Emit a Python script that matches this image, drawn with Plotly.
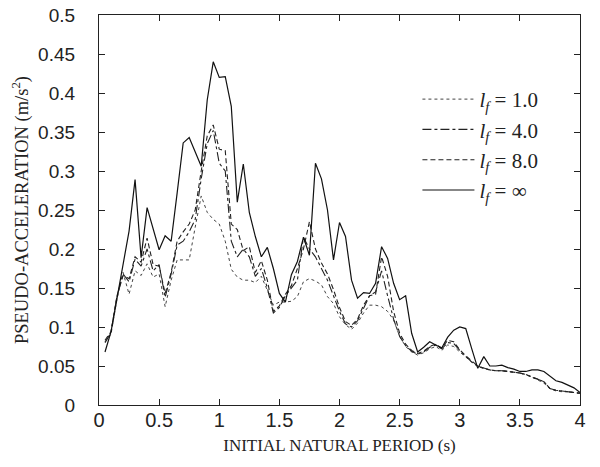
import plotly.graph_objects as go

period = [0.05, 0.10, 0.15, 0.20, 0.25, 0.30, 0.35, 0.40, 0.45, 0.50,
          0.55, 0.60, 0.65, 0.70, 0.75, 0.80, 0.85, 0.90, 0.95, 1.00,
          1.05, 1.10, 1.15, 1.20, 1.25, 1.30, 1.35, 1.40, 1.45, 1.50,
          1.55, 1.60, 1.65, 1.70, 1.75, 1.80, 1.85, 1.90, 1.95, 2.00,
          2.05, 2.10, 2.15, 2.20, 2.25, 2.30, 2.35, 2.40, 2.45, 2.50,
          2.55, 2.60, 2.65, 2.70, 2.75, 2.80, 2.85, 2.90, 2.95, 3.00,
          3.05, 3.10, 3.15, 3.20, 3.25, 3.30, 3.35, 3.40, 3.45, 3.50,
          3.55, 3.60, 3.65, 3.70, 3.75, 3.80, 3.85, 3.90, 3.95, 4.00]

acc_lf1 = [0.081, 0.091, 0.136, 0.170, 0.142, 0.172, 0.166, 0.181, 0.164, 0.168,
           0.126, 0.160, 0.186, 0.186, 0.186, 0.228, 0.268, 0.247, 0.238, 0.232,
           0.210, 0.174, 0.164, 0.160, 0.160, 0.157, 0.165, 0.147, 0.128, 0.132,
           0.132, 0.133, 0.139, 0.158, 0.162, 0.159, 0.154, 0.139, 0.130, 0.113,
           0.103, 0.097, 0.105, 0.118, 0.128, 0.128, 0.126, 0.120, 0.109, 0.088,
           0.075, 0.068, 0.064, 0.067, 0.072, 0.075, 0.070, 0.077, 0.075, 0.068,
           0.061, 0.055, 0.049, 0.047, 0.045, 0.044, 0.044, 0.043, 0.042, 0.041,
           0.039, 0.036, 0.032, 0.028, 0.021, 0.018, 0.017, 0.017, 0.016, 0.015]

acc_lf4 = [0.080, 0.093, 0.140, 0.168, 0.158, 0.187, 0.178, 0.200, 0.172, 0.180,
           0.138, 0.168, 0.205, 0.210, 0.222, 0.238, 0.290, 0.335, 0.352, 0.310,
           0.300, 0.210, 0.190, 0.200, 0.190, 0.165, 0.175, 0.150, 0.118, 0.125,
           0.140, 0.150, 0.160, 0.215, 0.200, 0.190, 0.175, 0.160, 0.140, 0.120,
           0.104, 0.100, 0.108, 0.125, 0.140, 0.145, 0.172, 0.140, 0.110, 0.088,
           0.076, 0.069, 0.065, 0.068, 0.074, 0.077, 0.072, 0.080, 0.079, 0.070,
           0.062, 0.055, 0.050, 0.047, 0.045, 0.044, 0.044, 0.043, 0.042, 0.041,
           0.039, 0.036, 0.033, 0.030, 0.021, 0.019, 0.018, 0.017, 0.016, 0.015]

acc_lf8 = [0.083, 0.094, 0.140, 0.166, 0.162, 0.190, 0.183, 0.214, 0.180, 0.178,
           0.143, 0.170, 0.210, 0.222, 0.232, 0.250, 0.300, 0.345, 0.359, 0.328,
           0.326, 0.232, 0.225, 0.198, 0.203, 0.170, 0.185, 0.160, 0.120, 0.127,
           0.142, 0.153, 0.175, 0.200, 0.235, 0.200, 0.182, 0.168, 0.148, 0.125,
           0.107, 0.102, 0.110, 0.128, 0.140, 0.142, 0.190, 0.165, 0.120, 0.092,
           0.078, 0.070, 0.066, 0.069, 0.075, 0.078, 0.073, 0.083, 0.081, 0.071,
           0.063, 0.056, 0.050, 0.047, 0.045, 0.044, 0.044, 0.043, 0.042, 0.041,
           0.039, 0.036, 0.033, 0.030, 0.021, 0.019, 0.018, 0.017, 0.016, 0.015]

acc_inf = [0.068, 0.094, 0.137, 0.180, 0.223, 0.289, 0.189, 0.253, 0.226, 0.199,
           0.217, 0.210, 0.272, 0.336, 0.343, 0.325, 0.306, 0.391, 0.440, 0.420,
           0.421, 0.383, 0.260, 0.309, 0.247, 0.216, 0.190, 0.202, 0.175, 0.143,
           0.132, 0.167, 0.184, 0.215, 0.192, 0.310, 0.290, 0.250, 0.186, 0.234,
           0.216, 0.160, 0.137, 0.144, 0.143, 0.156, 0.203, 0.188, 0.156, 0.135,
           0.140, 0.092, 0.068, 0.074, 0.081, 0.077, 0.073, 0.087, 0.096, 0.100,
           0.098, 0.072, 0.047, 0.062, 0.050, 0.050, 0.051, 0.048, 0.046, 0.043,
           0.043, 0.045, 0.045, 0.043, 0.037, 0.031, 0.029, 0.026, 0.022, 0.016]

series_names = ["<i>l</i><sub><i>f</i></sub> = 1.0",
                "<i>l</i><sub><i>f</i></sub> = 4.0",
                "<i>l</i><sub><i>f</i></sub> = 8.0",
                "<i>l</i><sub><i>f</i></sub> = ∞"]

x_ticks = [0, 0.5, 1, 1.5, 2, 2.5, 3, 3.5, 4]
y_ticks = [0, 0.05, 0.1, 0.15, 0.2, 0.25, 0.3, 0.35, 0.4, 0.45, 0.5]

styles = [dict(dash="dot", width=1, color="#444"),
          dict(dash="dashdot", width=1.1, color="#222"),
          dict(dash="5px,3px", width=1.1, color="#222"),
          dict(dash="solid", width=1.2, color="#111")]

fig = go.Figure()
for name, ys, st in zip(series_names, [acc_lf1, acc_lf4, acc_lf8, acc_inf], styles):
    fig.add_trace(go.Scatter(x=period, y=ys, mode="lines", name=name, line=st))

axis_common = dict(showline=True, linecolor="#222", linewidth=1.2, mirror="ticks",
                   ticks="inside", ticklen=6, tickcolor="#222", showgrid=False,
                   zeroline=False, ticklabeloverflow="allow")

# the page body has an 8px default margin, so the figure is 8px smaller
fig.update_layout(
    width=592, height=459,
    margin=dict(l=91, r=20, t=7, b=62, autoexpand=False),
    paper_bgcolor="white", plot_bgcolor="white",
    showlegend=True,
    legend=dict(x=0.662, y=0.836, xanchor="left", yanchor="top",
                bgcolor="rgba(0,0,0,0)", borderwidth=0,
                font=dict(family="Liberation Serif, Times New Roman", size=21, color="#222"),
                itemwidth=52),
    xaxis=dict(range=[0, 4], tickvals=x_ticks, ticklabelstandoff=-3,
               tickfont=dict(family="Liberation Sans, Arial", size=20, color="#222"),
               title=dict(text="INITIAL NATURAL PERIOD (s)", standoff=9,
                          font=dict(family="Liberation Serif, Times New Roman", size=17, color="#222")),
               **axis_common),
    yaxis=dict(range=[0, 0.5], tickvals=y_ticks, ticklabelstandoff=19,
               tickfont=dict(family="Liberation Sans, Arial", size=19, color="#222"),
               title=dict(text="PSEUDO-ACCELERATION (m/s<sup>2</sup>)", standoff=6,
                          font=dict(family="Liberation Serif, Times New Roman", size=18.5, color="#222")),
               **axis_common),
)

fig.write_html("out.html")
